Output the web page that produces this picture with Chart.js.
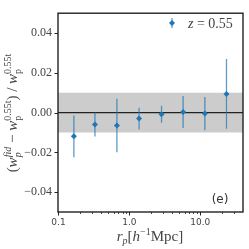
<!DOCTYPE html>
<html><head><meta charset="utf-8">
<script src="https://cdn.jsdelivr.net/npm/chart.js@4"></script>
<style>html,body{margin:0;padding:0;background:#fff}#wrap{width:249px;height:249px}</style>
</head><body><div id="wrap"><canvas id="c" width="249" height="249"></canvas></div>
<script>
const rp   = [0.165, 0.327, 0.667, 1.37, 2.84, 5.72, 11.6, 23.4];
const diff = [-0.0119, -0.0060, -0.0065, -0.0030, -0.0008, 0.0003, -0.0005, 0.0094];
const err  = [0.0105, 0.0060, 0.0135, 0.0055, 0.0043, 0.0080, 0.0084, 0.0175];
const yTicks = [-0.04, -0.02, 0, 0.02, 0.04];
const xMajor = [0.1, 1, 10];
const xTickLabels = ['0.1', '1.0', '10.0'];
const xMinor = [0.2,0.3,0.4,0.5,0.6,0.7,0.8,0.9,2,3,4,5,6,7,8,9,20,30];
const band = [-0.01, 0.01];
const legendLabel = 'z = 0.55';
const panelLabel = '(e)';

const BLUE = '#1f77b4';
const EBAR = 'rgba(31,119,180,0.72)';
const SERIF = '"Liberation Serif", "DejaVu Serif", serif';

function drawRich(ctx, segs, x, y, align) {
  const widths = segs.map(s => {
    ctx.font = s.f;
    if (s.sub !== undefined) {
      return Math.max(ctx.measureText(s.sub).width, ctx.measureText(s.sup).width);
    }
    return ctx.measureText(s.t).width;
  });
  const total = widths.reduce((a,b)=>a+b,0);
  let cx = align === 'center' ? x - total/2 : x;
  ctx.textAlign = 'left';
  ctx.textBaseline = 'alphabetic';
  segs.forEach((s,i) => {
    ctx.font = s.f;
    if (s.sub !== undefined) {
      ctx.fillText(s.sub, cx, y + s.subDy);
      ctx.fillText(s.sup, cx, y + s.supDy);
    } else {
      ctx.fillText(s.t, cx, y + (s.dy||0));
    }
    cx += widths[i];
  });
  return total;
}

const deco = {
  id: 'deco',
  beforeDatasetsDraw(chart) {
    const {ctx, chartArea: a, scales: {x, y}} = chart;
    ctx.save();
    ctx.beginPath(); ctx.rect(a.left, a.top, a.right - a.left, a.bottom - a.top); ctx.clip();
    const yb1 = y.getPixelForValue(band[1]), yb0 = y.getPixelForValue(band[0]);
    ctx.fillStyle = '#cccccc';
    ctx.fillRect(a.left, yb1, a.right - a.left, yb0 - yb1);
    const y0 = y.getPixelForValue(0);
    ctx.strokeStyle = '#222'; ctx.lineWidth = 1.4;
    ctx.beginPath(); ctx.moveTo(a.left, y0); ctx.lineTo(a.right, y0); ctx.stroke();
    ctx.strokeStyle = EBAR; ctx.lineWidth = 1.3;
    rp.forEach((r, i) => {
      const px = x.getPixelForValue(r);
      ctx.beginPath();
      ctx.moveTo(px, y.getPixelForValue(diff[i] - err[i]));
      ctx.lineTo(px, y.getPixelForValue(diff[i] + err[i]));
      ctx.stroke();
    });
    ctx.restore();
  },
  afterDraw(chart) {
    const {ctx, chartArea: a, scales: {x, y}} = chart;
    ctx.save();
    ctx.strokeStyle = '#222'; ctx.lineWidth = 1.4;
    ctx.strokeRect(a.left, a.top, a.right - a.left, a.bottom - a.top);
    ctx.lineWidth = 1;
    yTicks.forEach(v => {
      const py = Math.round(y.getPixelForValue(v)) + 0.5;
      ctx.beginPath(); ctx.moveTo(a.left - 3.5, py); ctx.lineTo(a.left, py); ctx.stroke();
    });
    xMajor.forEach(v => {
      const px = Math.round(x.getPixelForValue(v)) + 0.5;
      ctx.beginPath(); ctx.moveTo(px, a.bottom); ctx.lineTo(px, a.bottom + 3.5); ctx.stroke();
    });
    ctx.lineWidth = 0.8;
    xMinor.forEach(v => {
      const px = Math.round(x.getPixelForValue(v)) + 0.5;
      if (px > a.right - 1) return;
      ctx.beginPath(); ctx.moveTo(px, a.bottom); ctx.lineTo(px, a.bottom + 2); ctx.stroke();
    });
    ctx.fillStyle = '#444';
    ctx.save();
    ctx.translate(17, 113);
    ctx.rotate(-Math.PI/2);
    const M = '15px ' + SERIF, MI = 'italic 15px ' + SERIF, S = 'italic 10px ' + SERIF;
    drawRich(ctx, [
      {t:'(', f:M},
      {t:'w', f:MI},
      {sub:'p', sup:'fid', f:S, subDy:4, supDy:-6},
      {t:' \u2212 ', f:M},
      {t:'w', f:MI},
      {sub:'p', sup:'0.55t', f:'10px ' + SERIF, subDy:4, supDy:-6},
      {t:')', f:M},
      {t:' / ', f:M},
      {t:'w', f:MI},
      {sub:'p', sup:'0.55t', f:'10px ' + SERIF, subDy:4, supDy:-6}
    ], 0, 0, 'center');
    ctx.restore();
    drawRich(ctx, [
      {t:'r', f:'italic 15px ' + SERIF},
      {t:'p', f:'italic 10px ' + SERIF, dy:3},
      {t:'[', f:'15px ' + SERIF},
      {t:'h', f:'italic 15px ' + SERIF},
      {t:'\u22121', f:'10px ' + SERIF, dy:-6},
      {t:'Mpc]', f:'15px ' + SERIF}
    ], 150, 241, 'center');
    const lx = 172, ly = 23;
    ctx.strokeStyle = EBAR; ctx.lineWidth = 1.3;
    ctx.beginPath(); ctx.moveTo(lx, ly - 5); ctx.lineTo(lx, ly + 5); ctx.stroke();
    ctx.fillStyle = BLUE;
    ctx.beginPath(); ctx.moveTo(lx, ly - 3); ctx.lineTo(lx + 3, ly); ctx.lineTo(lx, ly + 3); ctx.lineTo(lx - 3, ly); ctx.closePath(); ctx.fill();
    ctx.fillStyle = '#444';
    drawRich(ctx, [
      {t:'z', f:'italic 14px ' + SERIF},
      {t:' = 0.55', f:'14px ' + SERIF}
    ], 188, 28, 'left');
    ctx.fillStyle = '#333';
    ctx.font = '12px "DejaVu Sans", sans-serif';
    ctx.textAlign = 'center'; ctx.textBaseline = 'middle';
    ctx.fillText(panelLabel, 220, 200);
    ctx.restore();
  }
};

new Chart(document.getElementById('c'), {
  type: 'scatter',
  data: {
    datasets: [{
      label: legendLabel,
      data: rp.map((r, i) => ({x: r, y: diff[i]})),
      pointStyle: 'rectRot',
      pointRadius: 3,
      pointBackgroundColor: BLUE,
      pointBorderWidth: 0,
      borderColor: BLUE
    }]
  },
  options: {
    responsive: false,
    animation: false,
    devicePixelRatio: 1,
    layout: {padding: {top: 4, right: 6, left: 0, bottom: 0}},
    plugins: {legend: {display: false}, tooltip: {enabled: false}},
    scales: {
      x: {
        type: 'logarithmic', min: 0.0985, max: 40,
        grid: {display: false, drawTicks: false},
        border: {display: false},
        afterBuildTicks: s => { s.ticks = xMajor.map(v => ({value: v})); },
        afterFit: s => { s.height = 37; },
        ticks: {
          autoSkip: false, maxRotation: 0, padding: 5,
          color: '#444', font: {family: '"DejaVu Sans"', size: 9},
          callback: (v, i) => xTickLabels[i]
        }
      },
      y: {
        min: -0.05, max: 0.05,
        grid: {display: false, drawTicks: false},
        border: {display: false},
        afterBuildTicks: s => { s.ticks = yTicks.map(v => ({value: v})); },
        afterFit: s => { s.width = 58; },
        ticks: {
          autoSkip: false, padding: 6,
          color: '#444', font: {family: '"Liberation Serif"', size: 12},
          callback: v => v === 0 ? '0.00' : (v < 0 ? '\u2212' : '') + Math.abs(v).toFixed(2)
        }
      }
    }
  },
  plugins: [deco]
});
</script>
</body></html>
